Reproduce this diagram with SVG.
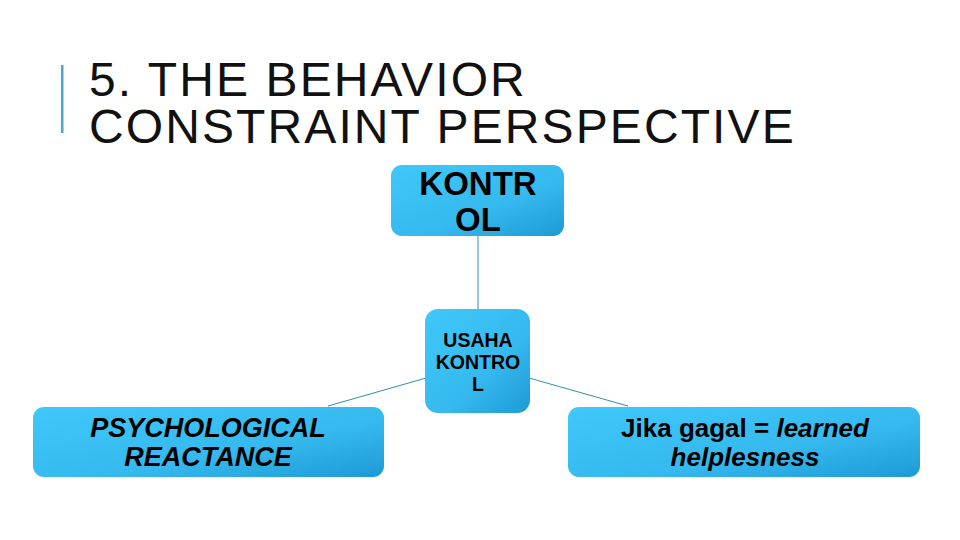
<svg xmlns="http://www.w3.org/2000/svg" width="960" height="540" viewBox="0 0 960 540">
<defs>
<linearGradient id="g" x1="0" y1="0" x2="1" y2="1">
<stop offset="0" stop-color="#40c8fa"/>
<stop offset="0.6" stop-color="#35b9ee"/>
<stop offset="1" stop-color="#1d9ad4"/>
</linearGradient>
<style>
.box{fill:url(#g);}
.t{font-family:"Liberation Sans",Arial,sans-serif;font-weight:bold;fill:#000;text-anchor:middle;}
.title{font-family:"Liberation Sans",Arial,sans-serif;font-size:48px;fill:#111;letter-spacing:2.1px;}
.c{stroke:#2f8fb5;stroke-width:1;fill:none;}
</style>
</defs>
<rect width="960" height="540" fill="#fff"/>
<rect x="61" y="65" width="2.5" height="68" fill="#4aa8d0"/>
<text class="title" x="89" y="96">5. THE BEHAVIOR</text>
<text class="title" x="89" y="143">CONSTRAINT PERSPECTIVE</text>
<g id="connectors">
<line class="c" x1="478" y1="236" x2="478" y2="310"/>
<line class="c" x1="426" y1="378" x2="328" y2="406"/>
<line class="c" x1="529" y1="378" x2="628" y2="406"/>
</g>
<g id="kontrol">
<rect class="box" x="391" y="165" width="173" height="71" rx="11"/>
<text class="t" x="478" y="195" font-size="33">KONTR</text>
<text class="t" x="478" y="231" font-size="33">OL</text>
</g>
<g id="usaha">
<rect class="box" x="425" y="309" width="105" height="104" rx="13"/>
<text class="t" x="478" y="347" font-size="19.5">USAHA</text>
<text class="t" x="478" y="369" font-size="19.5">KONTRO</text>
<text class="t" x="478" y="391" font-size="19.5">L</text>
</g>
<g id="psych">
<rect class="box" x="33" y="407" width="351" height="70" rx="11"/>
<text class="t" x="208" y="437" font-size="27" font-style="italic">PSYCHOLOGICAL</text>
<text class="t" x="208" y="466" font-size="27" font-style="italic">REACTANCE</text>
</g>
<g id="jika">
<rect class="box" x="568" y="407" width="352" height="70" rx="11"/>
<text class="t" x="745" y="437" font-size="26">Jika gagal = <tspan font-style="italic">learned</tspan></text>
<text class="t" x="745" y="466" font-size="26" font-style="italic">helplesness</text>
</g>
</svg>
